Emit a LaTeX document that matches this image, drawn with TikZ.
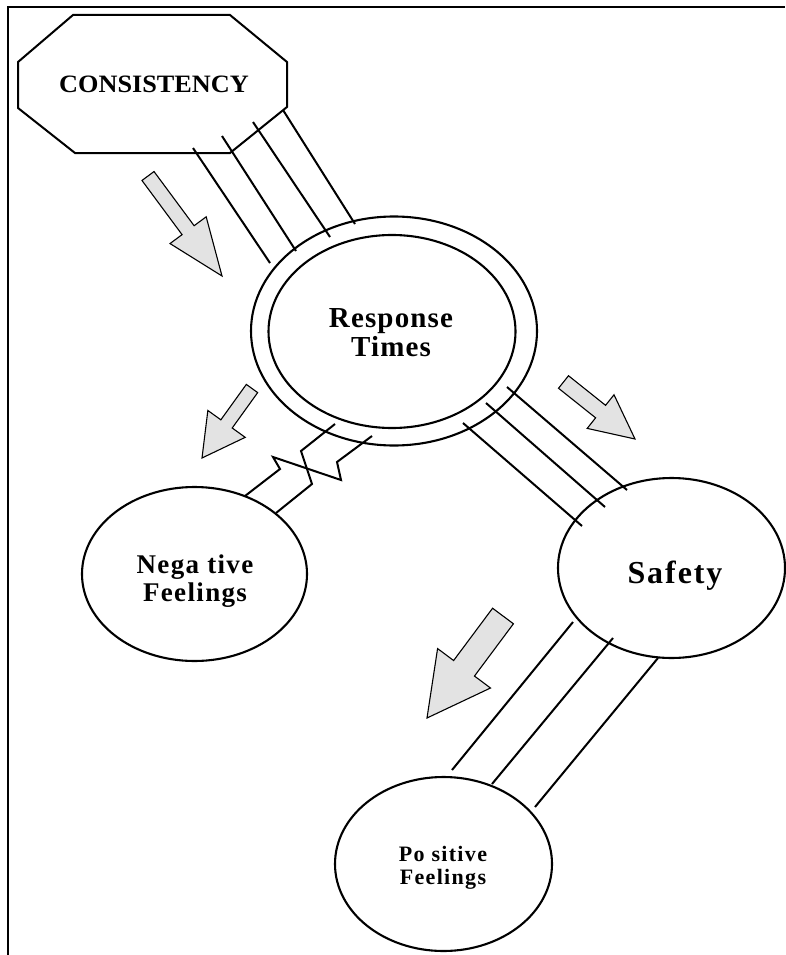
\documentclass[tikz,border=0pt]{standalone}
\usepackage{fontspec}
\setmainfont{Liberation Serif}
\usetikzlibrary{shapes.geometric,calc}

% fat block arrow: tail, tip, half shaft width, half head width, head length (pt)
\newcommand\fatarrow[5]{%
  \coordinate (neck) at ($(#2)!#5pt!(#1)$);
  \draw[blockarrow]
    ($(#1)!#3pt!90:(#2)$) -- ($(neck)!#3pt!90:(#2)$) --
    ($(neck)!#4pt!90:(#2)$) -- (#2) --
    ($(neck)!#4pt!-90:(#2)$) -- ($(neck)!#3pt!-90:(#2)$) --
    ($(#1)!#3pt!-90:(#2)$) -- cycle;
}

\begin{document}
\begin{tikzpicture}[x=1pt,y=-1pt,
  frame/.style={line width=2pt},
  bubble/.style={draw,ellipse,line width=2.1pt,inner sep=0pt},
  bundle/.style={line width=2pt},
  blockarrow/.style={draw,line width=1.1pt,fill=black!11,line join=miter},
  lbl/.style={align=center,inner sep=0pt}]
\useasboundingbox (0,0) rectangle (785,955);

% page frame
\draw[frame] (8,955) -- (8,7) -- (785,7);

% octagon
\draw[line width=2pt] (73,15) -- (230,15) -- (287,62) -- (287,107) --
  (230,153) -- (75,153) -- (18,108) -- (18,62) -- cycle;
\node[lbl,font=\bfseries\fontsize{25}{27}\selectfont] (cons) at (154,84)
  {\scalebox{1.05}[1]{CONSISTENCY}};

% ellipses
\node[bubble,minimum width=286pt,minimum height=229pt] (rtout) at (394,331) {};
\node[bubble,minimum width=247pt,minimum height=193pt] (rtin) at (392,331.5) {};
\node[lbl,font=\bfseries\fontsize{29}{29}\selectfont\addfontfeatures{LetterSpace=4}]
  (rttext) at (391,333) {Response\\Times};

\node[bubble,minimum width=225pt,minimum height=174pt] (neg) at (194.5,574) {};
\node[lbl,font=\bfseries\fontsize{27}{28}\selectfont\addfontfeatures{LetterSpace=5}]
  (negtext) at (195,581) {Nega tive\\Feelings};

\node[bubble,minimum width=227pt,minimum height=180pt] (safe) at (671.5,568) {};
\node[lbl,font=\bfseries\fontsize{32}{32}\selectfont\addfontfeatures{LetterSpace=6}]
  (safetext) at (675,576) {Safety};

\node[bubble,minimum width=217pt,minimum height=174pt] (pos) at (443.5,864) {};
\node[lbl,font=\bfseries\fontsize{22}{23}\selectfont\addfontfeatures{LetterSpace=6}]
  (postext) at (443,868) {Po sitive\\Feelings};

% four parallel lines: CONSISTENCY -> Response Times
\coordinate (c1a) at (193,148); \coordinate (c1b) at (270,263);
\coordinate (c2a) at (222,136); \coordinate (c2b) at (296,251);
\coordinate (c3a) at (253,122); \coordinate (c3b) at (330,237);
\coordinate (c4a) at (283,110); \coordinate (c4b) at (355,224);
\foreach \i in {1,...,4} \draw[bundle] (c\i a) -- (c\i b);

% three parallel lines: Response Times -> Safety
\coordinate (s1a) at (507,387); \coordinate (s1b) at (627,490);
\coordinate (s2a) at (486,403); \coordinate (s2b) at (605,507);
\coordinate (s3a) at (463,423); \coordinate (s3b) at (582,526);
\foreach \i in {1,...,3} \draw[bundle] (s\i a) -- (s\i b);

% three parallel lines: Safety -> Positive Feelings
\coordinate (p1a) at (573,622); \coordinate (p1b) at (452,770);
\coordinate (p2a) at (613,638); \coordinate (p2b) at (492,784);
\coordinate (p3a) at (658,658); \coordinate (p3b) at (535,807);
\foreach \i in {1,...,3} \draw[bundle] (p\i a) -- (p\i b);

% broken (zigzag) link: Response Times -> Negative Feelings
\coordinate (za) at (335,424); \coordinate (zb) at (276,513);
\coordinate (zc) at (372,436); \coordinate (zd) at (245,496);
\draw[bundle,line join=miter] (za) -- (301,451) -- (312,484) -- (zb);
\draw[bundle,line join=miter] (zc) -- (337,462) -- (341,480) -- (273,457) -- (280,469) -- (zd);

% shaded direction arrows
\coordinate (a1t) at (148,176); \coordinate (a1h) at (222,276);
\coordinate (a2t) at (252,388.5); \coordinate (a2h) at (202,458);
\coordinate (a3t) at (563.5,382); \coordinate (a3h) at (635,439);
\coordinate (a4t) at (503,616); \coordinate (a4h) at (427,718);
\fatarrow{a1t}{a1h}{7.5}{22.5}{57}
\fatarrow{a2t}{a2h}{7}{23}{42}
\fatarrow{a3t}{a3h}{8}{21.5}{44}
\fatarrow{a4t}{a4h}{13}{33}{62}
\end{tikzpicture}
\end{document}
